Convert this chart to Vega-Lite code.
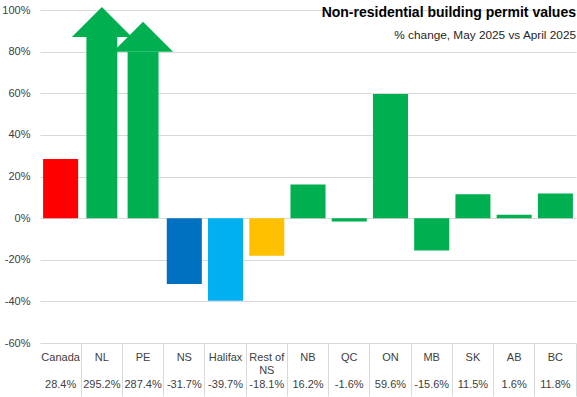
{
  "$schema": "https://vega.github.io/schema/vega-lite/v6.json",
  "width": 536,
  "height": 333,
  "autosize": {"type": "none"},
  "padding": {"left": 40, "top": 10, "right": 1, "bottom": 54},
  "background": "white",
  "config": {"view": {"stroke": null}, "font": "Liberation Sans"},
  "title": {
    "text": "Non-residential building permit values",
    "subtitle": "% change, May 2025 vs April 2025",
    "anchor": "end",
    "frame": "group",
    "orient": "top",
    "offset": -38,
    "font": "Liberation Sans Narrow, Liberation Sans, Arial, sans-serif",
    "fontSize": 14,
    "fontWeight": "bold",
    "color": "#000000",
    "subtitleFont": "Liberation Sans",
    "subtitleFontSize": 11.8,
    "subtitleColor": "#262626",
    "subtitlePadding": 10
  },
  "data": {
    "values": [
      {"region": "Canada", "value": 0.284},
      {"region": "NL", "value": 2.952, "shaft": 0.87},
      {"region": "PE", "value": 2.874, "shaft": 0.80},
      {"region": "NS", "value": -0.317},
      {"region": "Halifax", "value": -0.397},
      {"region": "Rest of NS", "value": -0.181},
      {"region": "NB", "value": 0.162},
      {"region": "QC", "value": -0.016},
      {"region": "ON", "value": 0.596},
      {"region": "MB", "value": -0.156},
      {"region": "SK", "value": 0.115},
      {"region": "AB", "value": 0.016},
      {"region": "BC", "value": 0.118}
    ]
  },
  "layer": [
    {
      "layer": [
        {
          "transform": [{"filter": "datum.shaft == null"}],
          "mark": {"type": "bar", "width": {"band": 0.85}},
          "encoding": {
            "x": {
              "field": "region", "type": "nominal", "sort": null, "title": null,
              "scale": {
                "type": "band", "paddingInner": 0, "paddingOuter": 0,
                "domain": ["Canada", "NL", "PE", "NS", "Halifax", "Rest of NS", "NB", "QC", "ON", "MB", "SK", "AB", "BC"]
              },
              "axis": {
                "orient": "bottom", "domain": false, "ticks": false, "grid": false,
                "labelAngle": 0, "labelPadding": 14, "labelBaseline": "middle",
                "labelLineHeight": 13, "labelFontSize": 11, "labelColor": "#404040",
                "labelOverlap": false,
                "labelExpr": "datum.value == 'Rest of NS' ? ['Rest of', 'NS'] : datum.value"
              }
            },
            "y": {
              "field": "value", "type": "quantitative", "title": null,
              "scale": {"domain": [-0.6, 1.0], "nice": false},
              "axis": {
                "values": [-0.6, -0.4, -0.2, 0, 0.2, 0.4, 0.6, 0.8, 1.0],
                "labelExpr": "(datum.value < 0 ? '-' : '') + format(abs(datum.value), '.0%')",
                "domain": false, "ticks": false, "labelPadding": 10,
                "labelFontSize": 11, "labelColor": "#404040",
                "gridColor": "#D9D9D9", "gridWidth": 1
              }
            },
            "color": {
              "field": "region", "type": "nominal", "legend": null,
              "scale": {
                "domain": ["Canada", "NL", "PE", "NS", "Halifax", "Rest of NS", "NB", "QC", "ON", "MB", "SK", "AB", "BC"],
                "range": ["#FF0000", "#00B050", "#00B050", "#0070C0", "#00B0F0", "#FFC000", "#00B050", "#00B050", "#00B050", "#00B050", "#00B050", "#00B050", "#00B050"]
              }
            }
          }
        },
        {
          "transform": [{"filter": "datum.shaft != null"}],
          "mark": {"type": "bar", "width": {"band": 0.75}, "color": "#00B050"},
          "encoding": {
            "x": {"field": "region", "type": "nominal", "sort": null, "title": null},
            "y": {"field": "shaft", "type": "quantitative", "title": null}
          }
        },
        {
          "transform": [{"filter": "datum.shaft != null"}],
          "mark": {"type": "point", "shape": "M-1,0L0,-1L1,0Z", "size": 3600, "filled": true, "opacity": 1, "color": "#00B050", "strokeWidth": 0},
          "encoding": {
            "x": {"field": "region", "type": "nominal", "sort": null, "title": null},
            "y": {"field": "shaft", "type": "quantitative", "title": null}
          }
        }
      ]
    },
    {
      "mark": {"type": "text", "text": ""},
      "encoding": {
        "x": {
          "field": "value", "type": "ordinal", "sort": null, "title": null,
          "scale": {"type": "band", "paddingInner": 0, "paddingOuter": 0},
          "axis": {
            "orient": "bottom", "domain": false, "grid": false,
            "ticks": true, "bandPosition": 1, "tickSize": 53, "tickColor": "#D9D9D9", "tickWidth": 1,
            "labelAngle": 0, "labelPadding": -12, "labelBaseline": "middle",
            "labelFontSize": 11, "labelColor": "#404040", "labelOverlap": false,
            "labelExpr": "(datum.value < 0 ? '-' : '') + format(abs(datum.value), '.1%')"
          }
        }
      }
    }
  ],
  "resolve": {"scale": {"x": "independent"}, "axis": {"x": "independent"}}
}
